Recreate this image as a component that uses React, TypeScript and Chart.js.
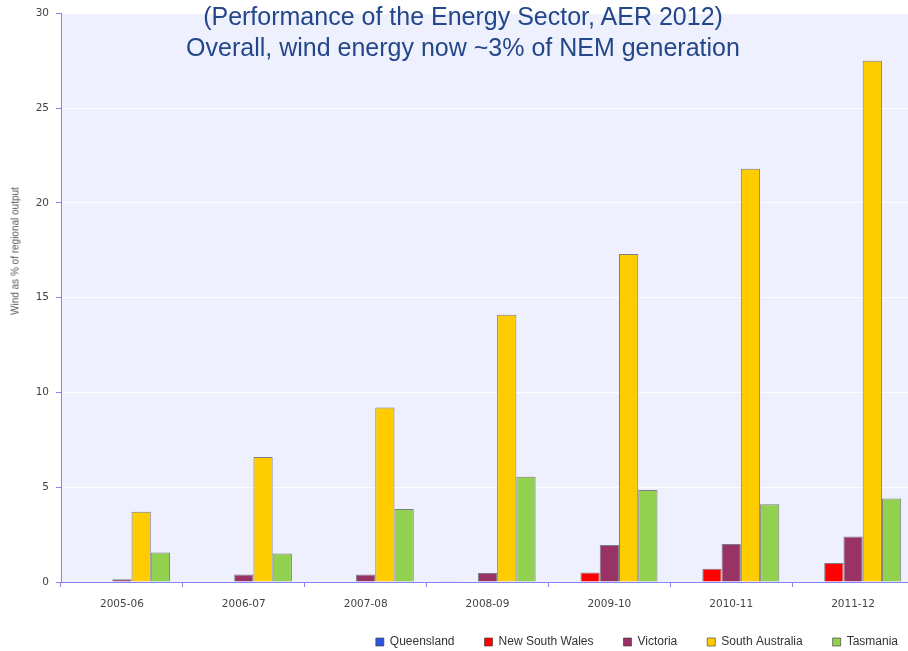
import React, { useEffect, useRef } from "react";
import { Chart, registerables } from "chart.js";

Chart.register(...registerables);

const categories = ["2005-06", "2006-07", "2007-08", "2008-09", "2009-10", "2010-11", "2011-12"];
const queensland = [0, 0, 0, 0.04, 0, 0, 0];
const newSouthWales = [0, 0, 0, 0, 0.5, 0.7, 1.0];
const victoria = [0.15, 0.4, 0.4, 0.47, 1.95, 2.0, 2.4];
const southAustralia = [3.7, 6.6, 9.2, 14.1, 17.3, 21.8, 27.5];
const tasmania = [1.55, 1.5, 3.85, 5.55, 4.85, 4.1, 4.4];

const titleLines = ["(Performance of the Energy Sector, AER 2012)", "Overall, wind energy now ~3% of NEM generation"];
const yAxisTitle = "Wind as % of regional output";

const AXIS_BLUE = "#8484f2";

export default function App() {
  const canvasRef = useRef<HTMLCanvasElement | null>(null);

  useEffect(() => {
    if (!canvasRef.current) return;
    const bgPlugin = {
      id: "plotBg",
      beforeDraw(chart: any) {
        const { ctx, chartArea } = chart;
        ctx.save();
        ctx.fillStyle = "#eef1fd";
        ctx.fillRect(chartArea.left, chartArea.top, chartArea.right - chartArea.left, chartArea.bottom - chartArea.top);
        ctx.restore();
      },
    };
    const legendFitPlugin = {
      id: "legendFit",
      afterInit(chart: any) {
        const lg = chart.legend;
        if (!lg) return;
        const orig = lg.fit.bind(lg);
        lg.fit = function () {
          orig();
          this.height = 39;
        };
      },
      afterLayout(chart: any) {
        const lg = chart.legend;
        if (!lg) return;
        lg.left += 14;
        lg.right += 14;
        lg.top -= 6;
        lg.height += 6;
      },
    };
    const border = "rgba(50,50,50,0.6)";
    const chart = new Chart(canvasRef.current, {
      type: "bar",
      data: {
        labels: categories,
        datasets: [
          { label: "Queensland", data: queensland, backgroundColor: "#2f55e0", borderColor: border, borderWidth: 1 },
          { label: "New South Wales", data: newSouthWales, backgroundColor: "#ff0000", borderColor: border, borderWidth: 1 },
          { label: "Victoria", data: victoria, backgroundColor: "#993366", borderColor: border, borderWidth: 1 },
          { label: "South Australia", data: southAustralia, backgroundColor: "#ffcc00", borderColor: border, borderWidth: 1 },
          { label: "Tasmania", data: tasmania, backgroundColor: "#92d050", borderColor: border, borderWidth: 1 },
        ],
      },
      options: {
        animation: false,
        responsive: false,
        maintainAspectRatio: false,
        layout: { padding: { top: 11, left: 0, right: 0, bottom: 0 } },
        datasets: { bar: { categoryPercentage: 0.79, barPercentage: 1 } },
        plugins: {
          legend: {
            position: "bottom",
            align: "end",
            labels: {
              boxWidth: 8,
              boxHeight: 8,
              padding: 30,
              color: "#333",
              font: { family: "Liberation Sans", size: 12 },
            },
          },
          tooltip: { enabled: false },
          title: { display: false },
        },
        scales: {
          x: {
            grid: {
              offset: true,
              drawOnChartArea: false,
              drawTicks: true,
              tickLength: 5,
              tickColor: AXIS_BLUE,
            },
            border: { color: AXIS_BLUE, width: 1 },
            ticks: { color: "#444", padding: 11, font: { family: "DejaVu Sans", size: 10.5 } },
            afterFit(scale: any) {
              scale.height = 30;
            },
          },
          y: {
            min: 0,
            max: 30,
            ticks: { stepSize: 5, color: "#444", padding: 7, font: { family: "DejaVu Sans", size: 10.5 } },
            grid: {
              color: "rgba(255,255,255,0.85)",
              tickColor: AXIS_BLUE,
              tickLength: 5,
              drawTicks: true,
            },
            border: { color: AXIS_BLUE, width: 1 },
            afterFit(scale: any) {
              scale.width = 61;
            },
          },
        },
      },
      plugins: [bgPlugin, legendFitPlugin],
    } as any);
    return () => chart.destroy();
  }, []);

  return (
    <div style={{ position: "absolute", left: 0, top: 0, width: 908, height: 651, overflow: "hidden", background: "#fff" }}>
      <canvas ref={canvasRef} width={914} height={651} style={{ width: 914, height: 651, display: "block" }} />
      <div
        style={{
          position: "absolute",
          left: 0,
          top: 1,
          width: 926,
          textAlign: "center",
          fontFamily: "Liberation Sans, Arial, sans-serif",
          fontSize: 25,
          lineHeight: "31px",
          color: "#24478a",
        }}
      >
        {titleLines.map((t) => (
          <div key={t}>{t}</div>
        ))}
      </div>
      <div
        style={{
          position: "absolute",
          left: 15,
          top: 251,
          transform: "translate(-50%, -50%) rotate(-90deg)",
          whiteSpace: "nowrap",
          fontFamily: "Liberation Sans, Arial, sans-serif",
          fontSize: 10,
          color: "#555",
        }}
      >
        {yAxisTitle}
      </div>
    </div>
  );
}
